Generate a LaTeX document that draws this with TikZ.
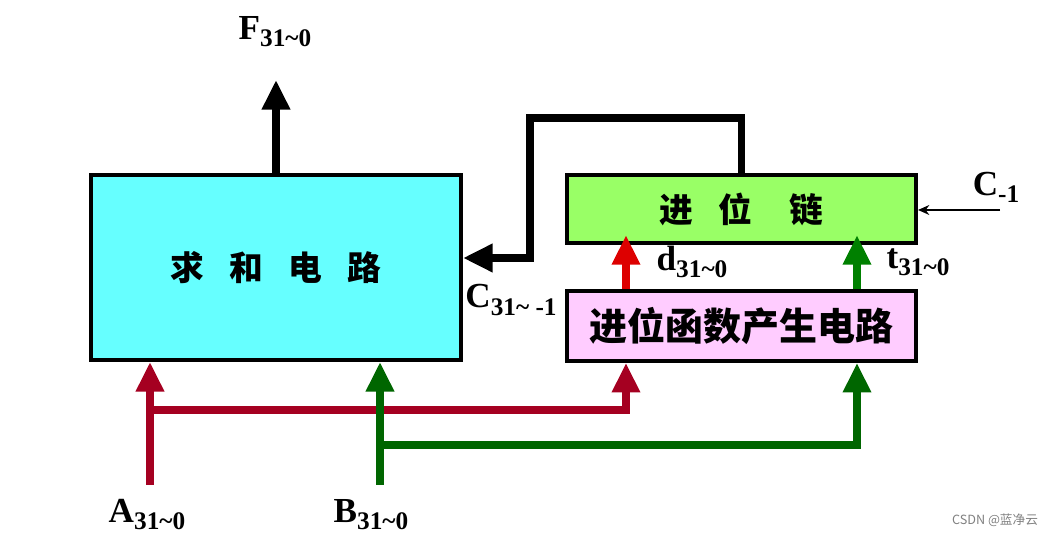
\documentclass[tikz,border=0pt]{standalone}
\usepackage{fontspec}
\setmainfont{Liberation Serif}
\newfontfamily\cjk{Noto Sans CJK SC}
\usepackage{xcolor}
\usetikzlibrary{arrows.meta,positioning,calc}

\definecolor{sumcyan}{HTML}{66FFFF}
\definecolor{chaingreen}{HTML}{99FF66}
\definecolor{genpink}{HTML}{FFCCFF}
\definecolor{dred}{HTML}{DD0000}
\definecolor{tgreen}{HTML}{008000}
\definecolor{ared}{HTML}{A50021}
\definecolor{bgreen}{HTML}{006600}

\newcommand{\sig}[2]{#1\raisebox{-5pt}{\fontsize{18}{18}\selectfont #2}}

\begin{document}
\begin{tikzpicture}[
    x=0.025cm, y=-0.025cm,
    box/.style={draw, line width=2.8pt, minimum width=8.725cm, minimum height=1.7cm, inner sep=0pt},
    cn/.style={font=\cjk\bfseries\fontsize{24}{24}\selectfont},
    lbl/.style={font=\fontsize{25}{28}\selectfont\bfseries, inner sep=0pt},
    bus/.style={line width=5.6pt, -{Triangle[length=21pt, width=19pt]}},
    arrow/.style={line width=1.4pt, -{Stealth[length=8pt, width=7pt]}},
]
    \useasboundingbox (0,0) rectangle (1060,536);

    \node[box, cn, fill=sumcyan, minimum width=9.25cm, minimum height=4.625cm] (sum) at (276,267.5) {求\hspace{0.75em}和\hspace{0.75em}电\hspace{0.75em}路};
    \node[box, cn, fill=chaingreen] (chain) at (741.5,209) {进\hspace{0.75em}位\hspace{1.1em}链};
    \node[box, fill=genpink, minimum height=1.75cm, below=1.1cm of chain, font=\cjk\bfseries\fontsize{27}{27}\selectfont] (gen) {进位函数产生电路};

    % output
    \coordinate (Ftip) at (276,80);
    \draw[bus] (sum.north) -- (Ftip);
    \node[lbl] (F) at (275,32) {\sig{F}{31\textasciitilde0}};

    % carry back to the adder
    \coordinate (fbA) at (530,118);
    \coordinate (fbB) at (530,258);
    \draw[bus, line join=miter] (chain.north) |- (fbA) -- (fbB) -- (sum.east |- fbB);
    \node[lbl] (Cin) at (511,300) {\sig{C}{31\textasciitilde\ -1}};

    % d and t
    \coordinate (dx) at (626,0);
    \coordinate (tx) at (857,0);
    \draw[bus, color=dred, shorten >=-7pt] (gen.north -| dx) -- (chain.south -| dx);
    \draw[bus, color=tgreen, shorten >=-7pt] (gen.north -| tx) -- (chain.south -| tx);
    \node[lbl] (d) at (692,262) {\sig{d}{31\textasciitilde0}};
    \node[lbl] (t) at (918,262) {\sig{t}{31\textasciitilde0}};

    % low carry in
    \coordinate (cm) at (1000,210);
    \draw[arrow] (cm) -- (chain.east |- cm);
    \node[lbl] (Cm) at (996,187) {\sig{C}{-1}};

    % operands
    \coordinate (Ain) at (150,485);
    \coordinate (Abr) at (150,410);
    \coordinate (Bin) at (380,485);
    \coordinate (Bbr) at (380,445);
    \draw[bus, color=ared] (Ain) -- (sum.south -| Ain);
    \draw[bus, color=ared, line join=miter] (Abr) -| (gen.south -| dx);
    \draw[bus, color=bgreen] (Bin) -- (sum.south -| Bin);
    \draw[bus, color=bgreen, line join=miter] (Bbr) -| (gen.south -| tx);
    \node[lbl] (A) at (147,515) {\sig{A}{31\textasciitilde0}};
    \node[lbl] (B) at (371,515) {\sig{B}{31\textasciitilde0}};

    \node[font=\cjk\fontsize{9}{9}\selectfont, text=gray] (wm) at (995,520) {CSDN @蓝净云};
\end{tikzpicture}
\end{document}
